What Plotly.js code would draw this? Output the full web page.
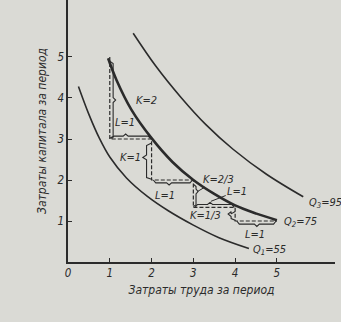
<!DOCTYPE html>
<html>
<head>
<meta charset="utf-8">
<script src="https://cdn.plot.ly/plotly-3.0.1.min.js"></script>
<style>html,body{margin:0;padding:0;background:#dadad5;}#chart{width:341px;height:322px;}</style>
</head>
<body>
<div id="chart"></div>
<script>
// Isoquant Q1 = 55
var q1L = [0.25, 0.5, 0.75, 1.0, 1.4, 1.9, 2.4, 3.0, 3.6, 4.33];
var q1K = [4.28, 3.6, 3.02, 2.56, 2.05, 1.6, 1.25, 0.9, 0.6, 0.33];
// Isoquant Q2 = 75
var q2L = [0.96, 1.16, 1.52, 2.0, 2.5, 3.0, 3.5, 4.0, 4.51, 5.0];
var q2K = [4.97, 4.44, 3.71, 3.02, 2.44, 2.0, 1.66, 1.38, 1.18, 1.02];
// Isoquant Q3 = 95
var q3L = [1.56, 2.1, 2.7, 3.3, 3.95, 4.75, 5.63];
var q3K = [5.58, 4.78, 4.02, 3.35, 2.75, 2.14, 1.59];
// Step points on Q2 (labour, capital)
var stepL = [1, 2, 3, 4, 5];
var stepK = [5, 3, 2, 4/3, 1];
// Labels
var qLabels = ['Q<sub>1</sub>=55', 'Q<sub>2</sub>=75', 'Q<sub>3</sub>=95'];
var dKLabels = ['K=2', 'K=1', 'K=2/3', 'K=1/3'];
var dLLabels = ['L=1', 'L=1', 'L=1', 'L=1'];
var xTicks = [0, 1, 2, 3, 4, 5];
var yTicks = [1, 2, 3, 4, 5];
var xTitle = 'Затраты труда за период';
var yTitle = 'Затраты капитала за период';

var ink = '#2b2b2b';
var fam = 'DejaVu Sans Condensed, DejaVu Sans, sans-serif';
var traces = [];
function curve(x, y, w) {
  traces.push({x: x, y: y, mode: 'lines', type: 'scatter', hoverinfo: 'skip',
    line: {color: ink, width: w, shape: 'spline', smoothing: 1.0}});
}
curve(q1L, q1K, 1.6);
curve(q2L, q2K, 2.6);
curve(q3L, q3K, 1.6);

// dashed staircase
var sx = [], sy = [];
for (var i = 0; i < stepL.length; i++) {
  if (i > 0) { sx.push(stepL[i - 1]); sy.push(stepK[i]); }
  sx.push(stepL[i]); sy.push(stepK[i]);
}
traces.push({x: sx, y: sy, mode: 'lines', type: 'scatter', hoverinfo: 'skip',
  line: {color: ink, width: 1.2, dash: '4px,2px'}});

// braces (solid), generated from step geometry
function vBrace(x0, ya, yb, side, ym) {
  var o = 0.08 * side, h = 0.06 * side, e = 0.06;
  var hi = Math.max(ya, yb), lo = Math.min(ya, yb);
  traces.push({x: [x0, x0 + o, x0 + o, x0 + o + h, x0 + o, x0 + o, x0],
    y: [hi - 0.1, hi - 0.16, ym + e, ym, ym - e, lo + 0.06, lo + 0.02],
    mode: 'lines', type: 'scatter', hoverinfo: 'skip', line: {color: ink, width: 1.1}});
}
function hBrace(y0, xa, xb, side, xm) {
  var o = 0.07 * side, h = 0.05 * side, e = 0.06;
  traces.push({x: [xa + 0.04, xa + 0.1, xm - e, xm, xm + e, xb - 0.08, xb - 0.02],
    y: [y0, y0 + o, y0 + o, y0 + o + h, y0 + o, y0 + o, y0],
    mode: 'lines', type: 'scatter', hoverinfo: 'skip', line: {color: ink, width: 1.1}});
}
vBrace(stepL[0], stepK[0], stepK[1], 1, 3.95);
hBrace(stepK[1], stepL[0], stepL[1], 1, 1.38);
vBrace(stepL[1], stepK[1], stepK[2], -1.5, 2.55);
hBrace(stepK[2], stepL[1], stepL[2], -1, 2.42);
vBrace(stepL[2], stepK[2], stepK[3], 0.8, 1.72);
hBrace(stepK[3], stepL[2], stepL[3], 1, 3.4);
vBrace(stepL[3], stepK[3], stepK[4], -1.2, 1.17);
hBrace(stepK[4], stepL[3], stepL[4], -1.1, 4.52);

var lab = {family: fam, size: 11, color: ink, style: 'italic'};
function txt(t, x, y, xanchor) {
  return {text: t, x: x, y: y, xref: 'x', yref: 'y', showarrow: false, font: lab,
    xanchor: xanchor || 'center', yanchor: 'middle'};
}
var ann = [
  txt(qLabels[0], q1L[q1L.length - 1] + 0.06, q1K[q1K.length - 1] - 0.03, 'left'),
  txt(qLabels[1], q2L[q2L.length - 1] + 0.12, q2K[q2K.length - 1] - 0.04, 'left'),
  txt(qLabels[2], q3L[q3L.length - 1] + 0.08, q3K[q3K.length - 1] - 0.15, 'left'),
  txt(dKLabels[0], 1.89, 3.95),
  txt(dLLabels[0], 1.37, 3.4),
  txt(dKLabels[1], 1.5, 2.56),
  txt(dLLabels[1], 2.32, 1.62),
  {text: dKLabels[2], x: 3.1, y: 1.72, ax: 3.6, ay: 2.02, xref: 'x', yref: 'y', axref: 'x', ayref: 'y',
    showarrow: true, arrowhead: 0, arrowwidth: 1, arrowcolor: ink, font: lab, standoff: 0},
  {text: dLLabels[2], x: 3.42, y: 1.48, ax: 4.05, ay: 1.73, xref: 'x', yref: 'y', axref: 'x', ayref: 'y',
    showarrow: true, arrowhead: 0, arrowwidth: 1, arrowcolor: ink, font: lab, standoff: 0},
  txt(dKLabels[3], 3.3, 1.14),
  txt(dLLabels[3], 4.47, 0.66)
];

var tf = {family: fam, size: 11.5, color: ink, style: 'italic'};
var layout = {
  width: 341, height: 322,
  margin: {l: 68, r: 6, t: 0, b: 60},
  paper_bgcolor: '#dadad5', plot_bgcolor: '#dadad5',
  showlegend: false,
  xaxis: {range: [0, 6.39], showgrid: false, zeroline: false, showline: true, linecolor: ink, linewidth: 1.6,
    tickvals: xTicks, ticktext: xTicks.map(String), ticks: 'inside', ticklen: 4, tickcolor: ink,
    tickfont: tf, fixedrange: true,
    title: {text: xTitle, font: {family: fam, size: 12, color: ink, style: 'italic'}, standoff: 6}},
  yaxis: {range: [0, 6.39], showgrid: false, zeroline: false, showline: true, linecolor: ink, linewidth: 1.6,
    tickvals: yTicks, ticktext: yTicks.map(String), ticks: 'inside', ticklen: 4, tickcolor: ink,
    tickfont: tf, fixedrange: true,
    title: {text: yTitle, font: {family: fam, size: 12, color: ink, style: 'italic'}, standoff: 8}},
  annotations: ann
};
Plotly.newPlot('chart', traces, layout, {displayModeBar: false, staticPlot: true});
</script>
</body>
</html>
